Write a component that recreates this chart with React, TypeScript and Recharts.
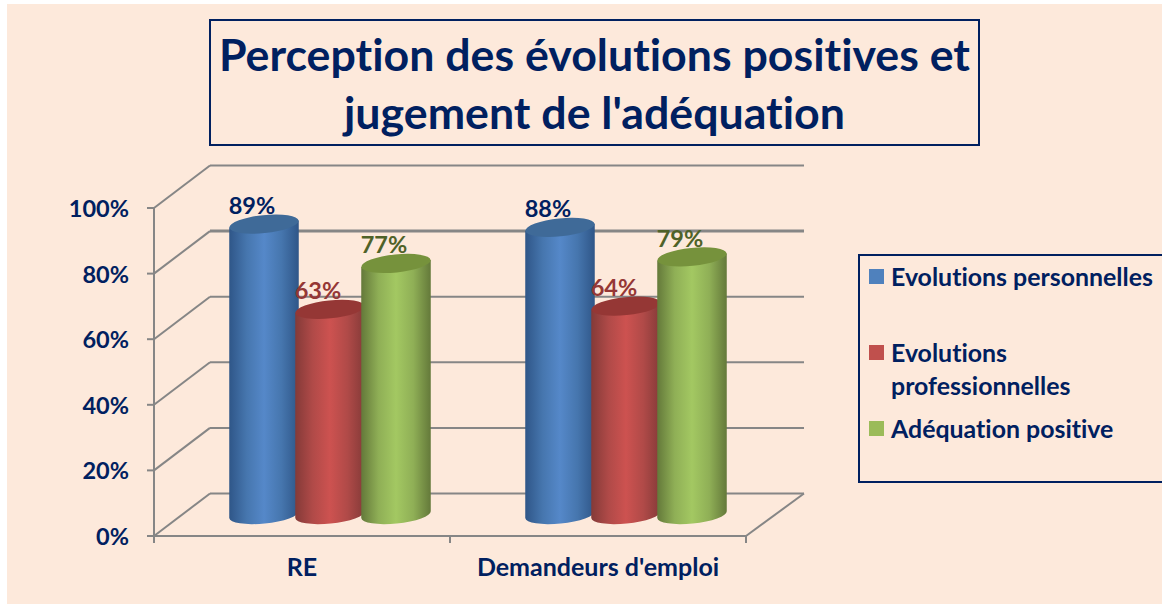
import React from "react";
import { BarChart, Bar, XAxis, YAxis, CartesianGrid, Legend, LabelList } from "recharts";

const categories = ["RE", "Demandeurs d'emploi"];
const evolutionsPersonnelles = [89, 88];
const evolutionsProfessionnelles = [63, 64];
const adequationPositive = [77, 79];
const yTicks = [0, 20, 40, 60, 80, 100];
const titleLines = ["Perception des évolutions positives et", "jugement de l'adéquation"];

const data = categories.map((name, i) => ({
  name,
  perso: evolutionsPersonnelles[i],
  pro: evolutionsProfessionnelles[i],
  adeq: adequationPositive[i],
}));

const NAVY = "#002060";
const GRID = "#868686";
const FONT = "Lato, Carlito, sans-serif";
const BG = "#FDE9DB";
const DX = 28;
const DY = -20;
const BAND = 296;
const NOLIG = { fontVariantLigatures: "none" } as React.CSSProperties;

const series = [
  { key: "perso", name: "Evolutions personnelles", fill: "#4F81BD", edge: "#2F5688", near: "#4676AE", mid: "#5588C9", cap: "#3F6A98", label: NAVY, id: "gBlue" },
  { key: "pro", name: "Evolutions professionnelles", fill: "#C0504D", edge: "#843A38", near: "#B04A48", mid: "#CD5250", cap: "#953735", label: "#953735", id: "gRed" },
  { key: "adeq", name: "Adéquation positive", fill: "#9BBB59", edge: "#64793A", near: "#8FAF56", mid: "#A3C862", cap: "#76923C", label: "#4F6228", id: "gGreen" },
];

function Cylinder(props: any) {
  const { x, y, width, height, gid, cap } = props;
  const cx = x + width / 2 + DX;
  const top = y + DY;
  const bottom = y + height + DY - 1.5;
  const w = width / 2 + 1.75;
  const ry = 9;
  const angle = -5.8;
  const tilt = 3.5;
  const d = `M ${cx - w} ${top + tilt} L ${cx - w} ${bottom + tilt} A ${w} ${ry} ${angle} 0 0 ${cx + w} ${bottom - tilt} L ${cx + w} ${top - tilt} Z`;
  return (
    <g>
      <path d={d} fill={`url(#${gid})`} />
      <ellipse cx={cx} cy={top} rx={w} ry={ry} fill={cap} transform={`rotate(${angle} ${cx} ${top})`} />
    </g>
  );
}

function ValueLabel(props: any) {
  const { x, y, width, value, color } = props;
  return (
    <text x={x + width / 2 + DX - 12} y={y + DY - 10} textAnchor="middle" fontFamily={FONT} fontWeight={700} fontSize={23.5} fill={color} style={NOLIG}>
      {value}%
    </text>
  );
}

function gridLine(p: any) {
  const { x1, x2, y1 } = p;
  const isFloor = Math.abs(y1 - 536) < 1;
  const isHeavy = Math.abs(y1 - 273.6) < 1;
  return (
    <g key={`g-${y1}`}>
      <line x1={x1} y1={y1} x2={x1 + 56} y2={y1 - 42.5} stroke={GRID} strokeWidth={2} />
      <line x1={x1 + 56} y1={y1 - 42.5} x2={x2 + 58} y2={y1 - 42.5} stroke={GRID} strokeWidth={isHeavy ? 3 : 2} />
      {isFloor && <line x1={x2} y1={y1} x2={x2 + 58} y2={y1 - 42.5} stroke={GRID} strokeWidth={2} />}
    </g>
  );
}

function XTick(props: any) {
  const { x, y, payload } = props;
  return (
    <g>
      <line x1={x - BAND / 2} x2={x - BAND / 2} y1={536} y2={543} stroke={GRID} strokeWidth={2} />
      <line x1={x + BAND / 2} x2={x + BAND / 2} y1={536} y2={543} stroke={GRID} strokeWidth={2} />
      <text x={x} y={y + 32} textAnchor="middle" fontFamily={FONT} fontWeight={700} fontSize={25} fill={NAVY} style={NOLIG}>
        {payload.value}
      </text>
    </g>
  );
}

function YTick(props: any) {
  const { y, payload } = props;
  return (
    <g>
      <line x1={147} x2={154} y1={y} y2={y} stroke={GRID} strokeWidth={2} />
      <text x={129} y={y + 9} textAnchor="end" fontFamily={FONT} fontWeight={700} fontSize={23.5} fill={NAVY} style={NOLIG}>
        {payload.value}%
      </text>
    </g>
  );
}

function LegendBox(props: any) {
  const payload = props.payload || [];
  return (
    <div style={{ border: `2px solid ${NAVY}`, boxSizing: "border-box", width: 340, height: 229, position: "relative" }}>
      {payload.map((e: any, i: number) => (
        <div
          key={e.value}
          style={{
            position: "absolute",
            left: 31,
            top: [4, 80, 156][i],
            width: i === 1 ? 205 : 290,
            fontFamily: FONT,
            fontWeight: 700,
            fontSize: 24.9,
            lineHeight: "33px",
            color: NAVY,
            ...NOLIG,
          }}
        >
          <span style={{ position: "absolute", left: -22, top: 9, width: 15, height: 15, background: e.color }} />
          {e.value}
        </div>
      ))}
    </div>
  );
}

export default function App() {
  return (
    <div style={{ position: "fixed", left: 0, top: 0, width: 1162, height: 605, background: "#fff", overflow: "hidden" }}>
      <div style={{ position: "absolute", left: 7, top: 4, width: 1155, height: 600, background: BG }} />
      <div
        style={{
          position: "absolute",
          left: 209,
          top: 19,
          width: 771,
          height: 127,
          boxSizing: "border-box",
          border: `2px solid ${NAVY}`,
          textAlign: "center",
          fontFamily: FONT,
          fontWeight: 700,
          fontSize: 44.7,
          lineHeight: "58px",
          color: NAVY,
          paddingTop: 4,
          whiteSpace: "nowrap",
          ...NOLIG,
        }}
      >
        {titleLines.map((t) => (
          <div key={t}>{t}</div>
        ))}
      </div>
      <div style={{ position: "absolute", left: 0, top: 0 }}>
        <BarChart
          width={1162}
          height={605}
          data={data}
          margin={{ top: 208, left: 94, right: 416, bottom: 29 }}
          barCategoryGap={49}
          barGap={0}
          barSize={66}
        >
          <defs>
            {series.map((s) => (
              <linearGradient key={s.id} id={s.id} x1="0" y1="0" x2="1" y2="0">
                <stop offset="0%" stopColor={s.edge} />
                <stop offset="25%" stopColor={s.near} />
                <stop offset="50%" stopColor={s.mid} />
                <stop offset="75%" stopColor={s.near} />
                <stop offset="100%" stopColor={s.edge} />
              </linearGradient>
            ))}
          </defs>
          <CartesianGrid horizontal={gridLine} vertical={false} />
          <XAxis dataKey="name" height={40} axisLine={{ stroke: GRID, strokeWidth: 2 }} tickLine={false} tick={<XTick />} interval={0} />
          <YAxis width={60} domain={[0, 100]} ticks={yTicks} axisLine={{ stroke: GRID, strokeWidth: 2 }} tickLine={false} tick={<YTick />} interval={0} />
          <Legend
            layout="vertical"
            align="center"
            verticalAlign="middle"
            itemSorter={null}
            content={<LegendBox />}
            wrapperStyle={{ left: 858, top: 254, width: 340, height: 229 }}
          />
          {series.map((s) => (
            <Bar
              key={s.key}
              dataKey={s.key}
              name={s.name}
              fill={s.fill}
              isAnimationActive={false}
              shape={(p: any) => <Cylinder {...p} gid={s.id} cap={s.cap} />}
            >
              <LabelList dataKey={s.key} content={(p: any) => <ValueLabel {...p} color={s.label} />} />
            </Bar>
          ))}
        </BarChart>
      </div>
    </div>
  );
}
